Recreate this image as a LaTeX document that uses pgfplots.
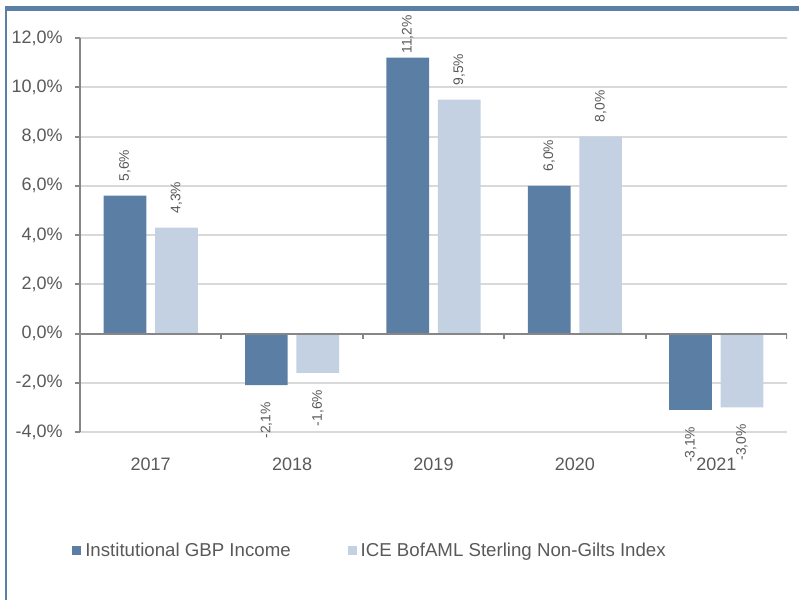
\documentclass[border=0pt]{standalone}
\usepackage{fontspec}
\setmainfont{Liberation Sans}
\usepackage{graphicx}
\usepackage{pgfplots}
\pgfplotsset{compat=1.18}
\usepackage{pgfplotstable}
\definecolor{darkbar}{HTML}{5B7FA4}
\definecolor{lightbar}{HTML}{C4D1E3}
\definecolor{frameblue}{HTML}{5B80A6}
\definecolor{txt}{HTML}{595959}
\definecolor{axgray}{HTML}{868686}
\definecolor{gridgray}{HTML}{D9D9D9}

\pgfplotstableread{
x y off
0 5.6 10.5
1 -2.1 -12.5
2 11.2 3
3 6.0 10.5
4 -3.1 -12.5
}\dataA
\pgfplotstableread{
x y off
0 4.3 10.5
1 -1.6 -12.5
2 9.5 10.5
3 8.0 10.5
4 -3.0 -12.5
}\dataB

\newcommand{\tickfont}{\fontsize{13.5}{16}\selectfont}
\newcommand{\legfont}{\fontsize{14}{16}\selectfont}
\newcommand{\labfont}{\fontsize{10.4}{12}\selectfont}

\begin{document}
\begin{tikzpicture}
\path[use as bounding box] (0pt,0pt) rectangle (599.25pt,450pt);
\draw[frameblue, line width=3.75pt] (3.75pt,443.6pt) -- (599.25pt,443.6pt);
\draw[frameblue, line width=1.5pt] (4.5pt,0pt) -- (4.5pt,443.6pt);
\begin{axis}[
  at={(60pt,126pt)}, anchor=south west,
  scale only axis, width=530.25pt, height=295.5pt,
  xmin=-0.5, xmax=4.5, ymin=-4, ymax=12,
  ybar, bar width=0.302,
  axis lines*=left,
  x axis line style={draw=none},
  y axis line style={axgray, line width=1.5pt},
  xtick={0,1,2,3,4},
  xticklabels={2017,2018,2019,2020,2021},
  xtick style={draw=none},
  ytick={-4,-2,0,2,4,6,8,10,12},
  ytick style={axgray, line width=1.5pt},
  tick align=outside,
  major tick length=3.75pt,
  ymajorgrids,
  grid style={gridgray, line width=1.5pt},
  ticklabel style={font=\tickfont, text=txt},
  xticklabel style={anchor=north, inner sep=0pt, yshift=-15.25pt},
  yticklabel style={anchor=east, inner sep=0pt, xshift=-9pt},
  yticklabel={\pgfmathprintnumber{\tick}\%},
  /pgf/number format/fixed,
  /pgf/number format/fixed zerofill,
  /pgf/number format/precision=1,
  /pgf/number format/use comma,
  /pgf/number format/assume math mode=true,
  legend columns=2,
  legend cell align=left,
  legend style={at={(axis description cs:-0.0113,-0.3008)}, anchor=west,
    draw=none, fill=none, inner sep=0pt, font=\legfont, text=txt,
    nodes={inner sep=0pt},
    /tikz/every odd column/.append style={column sep=3pt},
    /tikz/every even column/.append style={column sep=42.75pt}},
]
\addplot[bar shift=-0.182, fill=darkbar, draw=none,
  visualization depends on={\thisrow{off}\as\off},
  nodes near coords={\rotatebox{90}{\pgfmathprintnumber{\pgfplotspointmeta}\%}},
  nodes near coords style={yshift=\off, inner sep=0pt, font=\labfont, text=txt},
  legend image code/.code={\fill[darkbar] (0pt,-3.375pt) rectangle (6.75pt,3.375pt);}]
  table[x=x,y=y]{\dataA};
\addlegendentry{Institutional GBP Income}
\addplot[bar shift=0.182, fill=lightbar, draw=none,
  visualization depends on={\thisrow{off}\as\off},
  nodes near coords={\rotatebox{90}{\pgfmathprintnumber{\pgfplotspointmeta}\%}},
  nodes near coords style={yshift=\off, inner sep=0pt, font=\labfont, text=txt},
  legend image code/.code={\fill[lightbar] (0pt,-3.375pt) rectangle (6.75pt,3.375pt);}]
  table[x=x,y=y]{\dataB};
\addlegendentry{ICE BofAML Sterling Non-Gilts Index}
\draw[axgray, line width=1.5pt] (axis cs:-0.5,0) -- (axis cs:4.5,0);
\pgfplotsinvokeforeach{0.5,1.5,2.5,3.5,4.5}{
  \draw[axgray, line width=1.5pt] (axis cs:#1,0) -- ++(0pt,-3.75pt);
}
\end{axis}
\end{tikzpicture}
\end{document}
